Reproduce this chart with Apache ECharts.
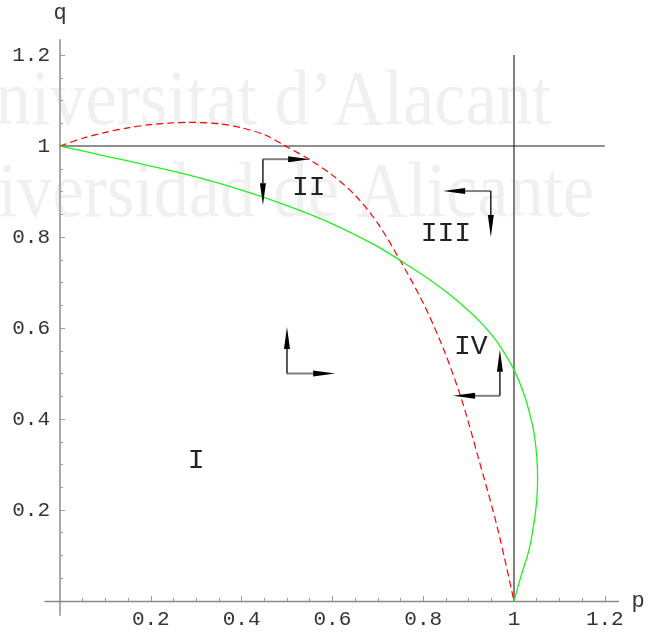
<!DOCTYPE html>
<html><head><meta charset="utf-8">
<script src="https://cdn.jsdelivr.net/npm/echarts@6.0.0/dist/echarts.min.js"></script>
<style>html,body{margin:0;padding:0;background:#fff}#c{width:648px;height:632px}</style>
</head><body><div id="c"></div>
<script>
// ---- tick values / labels ----
const pTicks = [0.2, 0.4, 0.6, 0.8, 1, 1.2];
const pTickLabels = ['0.2', '0.4', '0.6', '0.8', '1', '1.2'];
const qTicks = [0.2, 0.4, 0.6, 0.8, 1, 1.2];
const qTickLabels = ['0.2', '0.4', '0.6', '0.8', '1', '1.2'];
const minorTicks = [0.05, 0.1, 0.15, 0.2, 0.25, 0.3, 0.35, 0.4, 0.45, 0.5, 0.55, 0.6, 0.65, 0.7, 0.75, 0.8, 0.85, 0.9, 0.95, 1, 1.05, 1.1, 1.15, 1.2];

// ---- curves [p, q] ----
const greenCurve = [
  [0, 1], [0.1, 0.978], [0.2, 0.956], [0.3, 0.932], [0.4, 0.903], [0.5, 0.869],
  [0.6, 0.829], [0.7, 0.779], [0.75, 0.748], [0.8, 0.716], [0.85, 0.68],
  [0.9, 0.638], [0.925, 0.614], [0.95, 0.586], [0.97, 0.559], [1.0, 0.508],
  [1.022, 0.455], [1.035, 0.41], [1.044, 0.37], [1.05, 0.32], [1.052, 0.27],
  [1.05, 0.22], [1.044, 0.171], [1.033, 0.112], [1.015, 0.053], [1, 0]
];
const redCurve = [
  [0, 1], [0.05, 1.017], [0.1, 1.03], [0.15, 1.04], [0.2, 1.047], [0.28, 1.052],
  [0.35, 1.049], [0.4, 1.04], [0.45, 1.025], [0.5, 0.998], [0.55, 0.97],
  [0.6, 0.936], [0.65, 0.892], [0.7, 0.83], [0.749, 0.749], [0.8, 0.655],
  [0.844, 0.556], [0.884, 0.445], [0.92, 0.32], [0.963, 0.163], [1, 0]
];
const pEqualsOne = [[1, 0], [1, 1.2]];
const qEqualsOne = [[0, 1], [1.2, 1]];

// ---- direction arrows: corner, horizontal tip, vertical tip ----
const arrowCorners = [[0.5, 0.5], [0.447, 0.971], [0.949, 0.901], [0.969, 0.451]];
const arrowHorizontalTips = [[0.606, 0.5], [0.551, 0.971], [0.844, 0.901], [0.866, 0.451]];
const arrowVerticalTips = [[0.5, 0.602], [0.447, 0.870], [0.949, 0.8], [0.969, 0.552]];

// ---- region labels ----
const regionNames = ['I', 'II', 'III', 'IV'];
const regionP = [0.3, 0.548, 0.85, 0.905];
const regionQ = [0.308, 0.908, 0.808, 0.559];

const watermarkLines = ['Universitat d\u2019Alacant', 'Universidad de Alicante'];

function lookup(vals, labels, v) {
  for (let i = 0; i < vals.length; i++) if (Math.abs(vals[i] - v) < 1e-6) return labels[i];
  return '';
}

const arrowData = arrowCorners.map((c, i) => [c[0], c[1], arrowHorizontalTips[i][0], arrowHorizontalTips[i][1], arrowVerticalTips[i][0], arrowVerticalTips[i][1]]);
const regionData = regionNames.map((n, i) => [regionP[i], regionQ[i], n]);

const HEAD_LEN = 22, HEAD_W = 6;
function headPoints(tip, from) {
  let dx = tip[0] - from[0], dy = tip[1] - from[1];
  const L = Math.sqrt(dx * dx + dy * dy) || 1;
  dx /= L; dy /= L;
  const bx = tip[0] - dx * HEAD_LEN, by = tip[1] - dy * HEAD_LEN;
  const nx = -dy * HEAD_W / 2, ny = dx * HEAD_W / 2;
  return { base: [bx, by], pts: [tip, [bx + nx, by + ny], [bx - nx, by - ny]] };
}

const mono = '"Liberation Mono", "DejaVu Sans Mono", monospace';
const chart = echarts.init(document.getElementById('c'), null, { renderer: 'canvas' });

const xMin = -0.033, xMax = 1.23, yMin = -0.031, yMax = 1.233;

chart.setOption({
  animation: false,
  backgroundColor: '#fff',
  graphic: [
    { type: 'text', z: -10, x: -55, y: 104, style: { text: watermarkLines[0], font: '78px "Liberation Serif", serif', fill: '#f0f0f0', verticalAlign: 'middle' }, scaleX: 0.9 },
    { type: 'text', z: -10, x: -88, y: 196, style: { text: watermarkLines[1], font: '78px "Liberation Serif", serif', fill: '#f0f0f0', verticalAlign: 'middle' }, scaleX: 0.9 }
  ],
  grid: { left: 45, right: 29.6, top: 40, bottom: 16.9, containLabel: false, outerBoundsMode: 'none' },
  xAxis: [
    {
      type: 'value', min: xMin, max: xMax, position: 'bottom',
      name: 'p', nameLocation: 'end', nameGap: 13,
      nameTextStyle: { fontFamily: mono, fontSize: 22, color: '#333', align: 'left', verticalAlign: 'middle' },
      axisLine: { show: true, onZero: true, lineStyle: { color: '#888', width: 1.3 } },
      axisTick: { show: true, inside: true, length: 5, customValues: pTicks, lineStyle: { color: '#999', width: 1 } },
      axisLabel: { show: true, customValues: pTicks, margin: -6, fontFamily: mono, fontSize: 21, color: '#333', formatter: v => lookup(pTicks, pTickLabels, v) },
      splitLine: { show: false }
    },
    {
      type: 'value', min: xMin, max: xMax, position: 'bottom',
      axisLine: { show: false, onZero: true },
      axisTick: { show: true, inside: true, length: 3, customValues: minorTicks, lineStyle: { color: '#999', width: 1 } },
      axisLabel: { show: false },
      splitLine: { show: false }
    }
  ],
  yAxis: [
    {
      type: 'value', min: yMin, max: yMax, position: 'left',
      name: 'q', nameLocation: 'end', nameGap: 16,
      nameTextStyle: { fontFamily: mono, fontSize: 22, color: '#333', align: 'center' },
      axisLine: { show: true, onZero: true, lineStyle: { color: '#aaa', width: 2 } },
      axisTick: { show: true, inside: true, length: 5, customValues: qTicks, lineStyle: { color: '#999', width: 1 } },
      axisLabel: { show: true, customValues: qTicks, margin: -5, fontFamily: mono, fontSize: 21, color: '#333', formatter: v => lookup(qTicks, qTickLabels, v) },
      splitLine: { show: false }
    },
    {
      type: 'value', min: yMin, max: yMax, position: 'left',
      axisLine: { show: false, onZero: true },
      axisTick: { show: true, inside: true, length: 3, customValues: minorTicks, lineStyle: { color: '#999', width: 1 } },
      axisLabel: { show: false },
      splitLine: { show: false }
    }
  ],
  series: [
    { type: 'line', data: pEqualsOne, symbol: 'none', lineStyle: { color: '#808080', width: 2 }, z: 3 },
    { type: 'line', data: qEqualsOne, symbol: 'none', lineStyle: { color: '#222', width: 1.2 }, z: 3 },
    { type: 'line', data: redCurve, symbol: 'none', smooth: 0.3, lineStyle: { color: '#ff0000', width: 1.2, type: [7, 4] }, z: 4 },
    { type: 'line', data: greenCurve, symbol: 'none', smooth: 0.3, lineStyle: { color: '#22ee22', width: 1.3 }, z: 5 },
    {
      type: 'custom', data: arrowData, clip: false, z: 6,
      encode: { x: [0, 2, 4], y: [1, 3, 5] },
      renderItem: function (params, api) {
        const c = api.coord([api.value(0), api.value(1)]);
        const h = api.coord([api.value(2), api.value(3)]);
        const v = api.coord([api.value(4), api.value(5)]);
        const hh = headPoints(h, c), vh = headPoints(v, c);
        return {
          type: 'group', children: [
            { type: 'line', shape: { x1: c[0], y1: c[1], x2: hh.base[0], y2: hh.base[1] }, style: { stroke: '#808080', lineWidth: 2 } },
            { type: 'line', shape: { x1: c[0], y1: c[1], x2: vh.base[0], y2: vh.base[1] }, style: { stroke: '#111', lineWidth: 1.4 } },
            { type: 'polygon', shape: { points: hh.pts }, style: { fill: '#000' } },
            { type: 'polygon', shape: { points: vh.pts }, style: { fill: '#000' } }
          ]
        };
      }
    },
    {
      type: 'custom', data: regionData, clip: false, z: 7,
      encode: { x: 0, y: 1 },
      renderItem: function (params, api) {
        const pt = api.coord([api.value(0), api.value(1)]);
        return { type: 'text', x: pt[0], y: pt[1], style: { text: regionNames[params.dataIndex], font: '28px ' + mono, fill: '#222', align: 'center', verticalAlign: 'middle' } };
      }
    }
  ]
});
</script>
</body></html>
